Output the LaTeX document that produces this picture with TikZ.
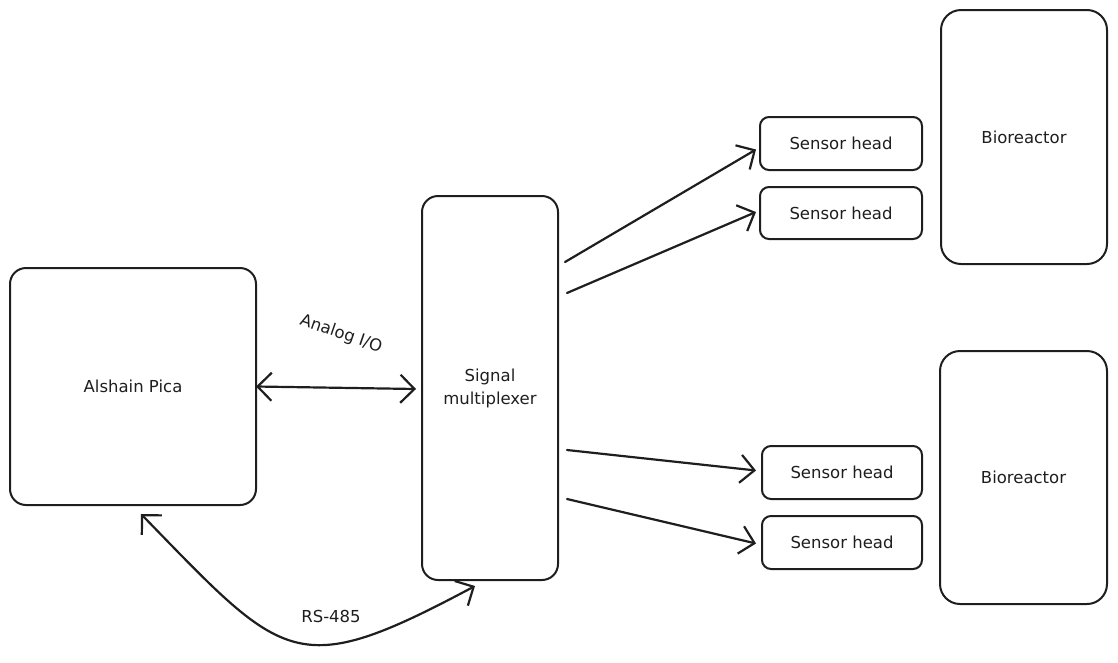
\documentclass[tikz,border=0pt]{standalone}
\usepackage{fontspec}
\setmainfont{DejaVu Sans}
\usetikzlibrary{arrows.meta}
\definecolor{ink}{HTML}{1E1E1E}
\begin{document}
\begin{tikzpicture}[x=1pt,y=-1pt,
  box/.style={draw=ink,line width=2pt,rounded corners=16pt,inner sep=0pt,align=center,
    font=\fontsize{16.5}{23}\selectfont,text=ink},
  smallbox/.style={box,rounded corners=9pt},
  conn/.style={draw=ink,line width=2.2pt,line cap=round},
  barb/.tip={Straight Barb[length=14pt,width=28pt,line width=2.2pt]},
  tip/.style={-barb},
  both/.style={barb-barb},
  lbl/.style={font=\fontsize{16.5}{20}\selectfont,text=ink,inner sep=0pt}]
\useasboundingbox (0,0) rectangle (1118,662);
\node[box,minimum width=246pt,minimum height=237pt] (pica) at (133,386.5) {Alshain Pica};
\node[box,minimum width=136pt,minimum height=384pt] (mux) at (490,388) {Signal\\multiplexer};
\node[smallbox,minimum width=162pt,minimum height=53pt] (s1) at (841,143.5) {Sensor head};
\node[smallbox,minimum width=162pt,minimum height=52pt] (s2) at (841,213) {Sensor head};
\node[smallbox,minimum width=160pt,minimum height=53pt] (s3) at (842,472.5) {Sensor head};
\node[smallbox,minimum width=160pt,minimum height=53pt] (s4) at (842,542.5) {Sensor head};
\node[box,minimum width=166pt,minimum height=254pt,rounded corners=20pt] (b1) at (1024,137) {Bioreactor};
\node[box,minimum width=167pt,minimum height=253pt,rounded corners=20pt] (b2) at (1023.5,477.5) {Bioreactor};
% labels
\node[lbl,rotate=-19] (aio) at (341,334) {Analog I/O};
\node[lbl] (rs) at (331,616) {RS-485};
% connectors
\draw[conn,both] ([xshift=-1pt]pica.east) -- ([xshift=-5pt,yshift=-1pt]mux.west);
\draw[conn,both] ([xshift=8pt,yshift=-8pt]pica.south) .. controls (285,662) and (295,682) .. ([xshift=-15pt,yshift=-5pt]mux.south);
\draw[conn,tip] ([xshift=6pt,yshift=126pt]mux.east) -- ([xshift=-3pt,yshift=-6pt]s1.west);
\draw[conn,tip] ([xshift=8pt,yshift=95pt]mux.east) -- ([xshift=-3pt,yshift=1pt]s2.west);
\draw[conn,tip] ([xshift=8pt,yshift=-62pt]mux.east) -- ([xshift=-5pt,yshift=2pt]s3.west);
\draw[conn,tip] ([xshift=8pt,yshift=-111pt]mux.east) -- ([xshift=-5pt,yshift=-1pt]s4.west);
\end{tikzpicture}
\end{document}
